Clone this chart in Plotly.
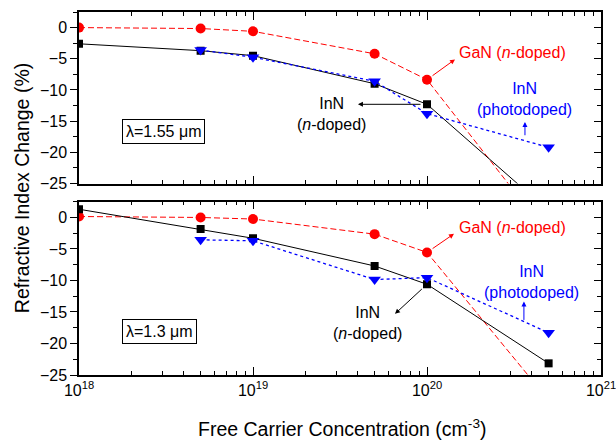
import plotly.graph_objects as go
import math

# ---- data ----
conc = [1e18, 5e18, 1e19, 5e19, 1e20, 5e20]
conc_photo = [5e18, 1e19, 5e19, 1e20, 5e20]

# lambda = 1.55 um (top panel)
gan_155 = [0.0, -0.15, -0.6, -4.2, -8.35, -33.3]
inn_n_155 = [-2.6, -3.7, -4.5, -9.0, -12.3, -29.4]
inn_photo_155 = [-3.6, -4.75, -8.6, -13.8, -19.2]

# lambda = 1.3 um (bottom panel)
gan_13 = [0.15, 0.0, -0.25, -2.65, -5.55, -29.0]
inn_n_13 = [1.3, -1.85, -3.3, -7.7, -10.6, -23.15]
inn_photo_13 = [-3.55, -3.7, -9.85, -9.55, -18.3]

x_ticks = [1e18, 1e19, 1e20, 1e21]
x_ticktext = ["10<sup>18</sup>", "10<sup>19</sup>", "10<sup>20</sup>", "10<sup>21</sup>"]
y_ticks = [0, -5, -10, -15, -20, -25]

RED = "#ff0000"
BLUE = "#0000ff"
BLACK = "#000000"
FONT = "Arial, Liberation Sans, sans-serif"

fig = go.Figure()

def add_panel(xa, ya, gan, inn_n, inn_p):
    fig.add_trace(go.Scatter(x=conc, y=gan, xaxis=xa, yaxis=ya, mode="lines+markers",
                             line=dict(color=RED, width=1, dash="6px,3px"),
                             marker=dict(symbol="circle", size=10, color=RED),
                             showlegend=False))
    fig.add_trace(go.Scatter(x=conc, y=inn_n, xaxis=xa, yaxis=ya, mode="lines+markers",
                             line=dict(color=BLACK, width=1),
                             marker=dict(symbol="square", size=8, color=BLACK),
                             showlegend=False))
    fig.add_trace(go.Scatter(x=conc_photo, y=inn_p, xaxis=xa, yaxis=ya, mode="lines+markers",
                             line=dict(color=BLUE, width=1.3, dash="dot"),
                             marker=dict(symbol="triangle-down", size=11, color=BLUE),
                             showlegend=False))

add_panel("x2", "y2", gan_155, inn_n_155, inn_photo_155)
add_panel("x", "y", gan_13, inn_n_13, inn_photo_13)

# invisible traces for right-side overlay axes
fig.add_trace(go.Scatter(x=[1e18], y=[0], xaxis="x", yaxis="y3", mode="markers",
                         marker=dict(opacity=0), showlegend=False, hoverinfo="skip"))
fig.add_trace(go.Scatter(x=[1e18], y=[0], xaxis="x2", yaxis="y4", mode="markers",
                         marker=dict(opacity=0), showlegend=False, hoverinfo="skip"))

minor_x = [float(m) * 10.0 ** e for e in (18, 19, 20) for m in range(2, 10)]

xcommon = dict(type="log", range=[18, 21], showline=True, linecolor=BLACK, linewidth=1.5,
               mirror="ticks", ticks="inside", ticklen=8, tickwidth=1, tickcolor=BLACK,
               tickvals=x_ticks, ticktext=x_ticktext, showgrid=False, zeroline=False,
               ticklabeloverflow="allow", automargin=False,
               minor=dict(tickvals=minor_x, ticks="inside", ticklen=4, tickcolor=BLACK, showgrid=False),
               tickfont=dict(family=FONT, size=16, color=BLACK))
ycommon = dict(range=[-25, 2.5], showline=True, linecolor=BLACK, linewidth=1.5, mirror=True,
               ticks="outside", ticklen=7, tickwidth=1, tickcolor=BLACK, tickvals=y_ticks,
               showgrid=False, zeroline=False, automargin=False,
               minor=dict(dtick=2.5, ticks="outside", ticklen=4, tickcolor=BLACK, showgrid=False),
               tickfont=dict(family=FONT, size=16, color=BLACK))
yright = dict(range=[-25, 2.5], side="right", showline=False, ticks="inside", ticklen=7,
              tickwidth=1, tickcolor=BLACK, tickvals=y_ticks, showticklabels=False,
              showgrid=False, zeroline=False, automargin=False,
              minor=dict(dtick=2.5, ticks="inside", ticklen=4, tickcolor=BLACK, showgrid=False))

bot_dom = [0, 0.4774]
top_dom = [0.5275, 1]

fig.update_layout(
    width=616, height=441,
    margin=dict(l=79, r=15, t=12, b=66),
    paper_bgcolor="white", plot_bgcolor="white",
    font=dict(family=FONT, size=16, color=BLACK),
    xaxis=dict(**xcommon, anchor="y"),
    yaxis=dict(**ycommon, domain=bot_dom, anchor="x"),
    xaxis2=dict(**xcommon, anchor="y2", matches="x", showticklabels=False),
    yaxis2=dict(**ycommon, domain=top_dom, anchor="x2"),
    yaxis3=dict(**yright, overlaying="y", anchor="x"),
    yaxis4=dict(**yright, overlaying="y2", anchor="x2"),
)

L = math.log10
ann = []
# axis titles
ann.append(dict(xref="paper", yref="paper", x=-0.109, y=0.515, text="Refractive Index Change (%)",
                textangle=-90, showarrow=False, font=dict(size=19.5), xanchor="center", yanchor="middle"))
ann.append(dict(xref="paper", yref="paper", x=0.503, y=-0.146,
                text="Free Carrier Concentration (cm<sup>-3</sup>)",
                showarrow=False, font=dict(size=19.5), xanchor="center", yanchor="middle"))

# --- top panel labels ---
ann.append(dict(xref="x2", yref="y2", x=20.494, y=-4.0, text="GaN (<i>n</i>-doped)",
                showarrow=False, font=dict(color=RED, size=16)))
ann.append(dict(xref="x2", yref="y2", x=20.161, y=-5.1, axref="x2", ayref="y2",
                ax=L(conc[4]), ay=gan_155[4], text="", showarrow=True, arrowhead=2,
                arrowsize=1, arrowwidth=1, arrowcolor=RED, startstandoff=5))
ann.append(dict(xref="x2", yref="y2", x=19.45, y=-13.9, text="InN<br>(<i>n</i>-doped)",
                showarrow=False, font=dict(color=BLACK, size=16)))
ann.append(dict(xref="x2", yref="y2", x=19.603, y=inn_n_155[4], axref="x2", ayref="y2",
                ax=L(conc[4]), ay=inn_n_155[4], text="", showarrow=True, arrowhead=2,
                arrowsize=1, arrowwidth=1, arrowcolor=BLACK, startstandoff=5))
ann.append(dict(xref="x2", yref="y2", x=20.563, y=-11.5, text="InN<br>(photodoped)",
                showarrow=False, font=dict(color=BLUE, size=16)))
ann.append(dict(xref="x2", yref="y2", x=20.563, y=-15.15, axref="x2", ayref="y2",
                ax=20.563, ay=-17.5, text="", showarrow=True, arrowhead=2,
                arrowsize=1, arrowwidth=1, arrowcolor=BLUE))
ann.append(dict(xref="x2", yref="y2", x=18.247, y=-16.7, text="λ=1.55 μm", xanchor="left",
                showarrow=False, bordercolor=BLACK, borderwidth=1, borderpad=3,
                font=dict(size=16), bgcolor="white"))

# --- bottom panel labels ---
ann.append(dict(xref="x", yref="y", x=20.494, y=-1.53, text="GaN (<i>n</i>-doped)",
                showarrow=False, font=dict(color=RED, size=16)))
ann.append(dict(xref="x", yref="y", x=20.155, y=-2.6, axref="x", ayref="y",
                ax=L(conc[4]), ay=gan_13[4], text="", showarrow=True, arrowhead=2,
                arrowsize=1, arrowwidth=1, arrowcolor=RED, startstandoff=5))
ann.append(dict(xref="x", yref="y", x=20.603, y=-10.2, text="InN<br>(photodoped)",
                showarrow=False, font=dict(color=BLUE, size=16)))
ann.append(dict(xref="x", yref="y", x=20.557, y=-13.35, axref="x", ayref="y",
                ax=20.557, ay=-16.5, text="", showarrow=True, arrowhead=2,
                arrowsize=1, arrowwidth=1, arrowcolor=BLUE))
ann.append(dict(xref="x", yref="y", x=19.657, y=-16.7, text="InN<br>(<i>n</i>-doped)",
                showarrow=False, font=dict(color=BLACK, size=16)))
ann.append(dict(xref="x", yref="y", x=19.816, y=-15.3, axref="x", ayref="y",
                ax=L(conc[4]), ay=inn_n_13[4], text="", showarrow=True, arrowhead=2,
                arrowsize=1, arrowwidth=1, arrowcolor=BLACK, startstandoff=5))
ann.append(dict(xref="x", yref="y", x=18.247, y=-18.1, text="λ=1.3 μm", xanchor="left",
                showarrow=False, bordercolor=BLACK, borderwidth=1, borderpad=3,
                font=dict(size=16), bgcolor="white"))

fig.update_layout(annotations=ann)
fig.write_html("out.html", config={"displayModeBar": False},
               post_script="document.body.style.margin='0px';document.body.style.padding='0px';")
